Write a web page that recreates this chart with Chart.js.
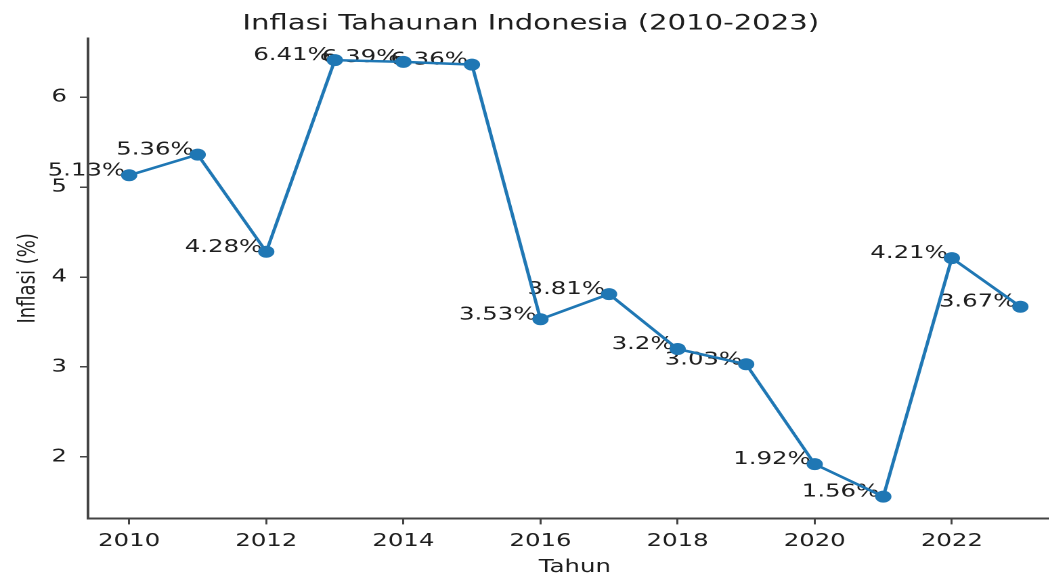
<!DOCTYPE html>
<html>
<head>
<meta charset="utf-8">
<script src="https://cdn.jsdelivr.net/npm/chart.js@4.4.1/dist/chart.umd.min.js"></script>
<style>
  html, body { margin: 0; padding: 0; background: #ffffff; width: 1049px; height: 576px; overflow: hidden; }
  #wrap { position: absolute; left: 0; top: 0; width: 800px; height: 576px; transform: scaleX(1.354); transform-origin: 0 0; }
</style>
</head>
<body>
<div id="wrap"><canvas id="c"></canvas></div>
<script>
// ---- data ----
const years = [2010, 2011, 2012, 2013, 2014, 2015, 2016, 2017, 2018, 2019, 2020, 2021, 2022, 2023];
const inflation = [5.13, 5.36, 4.28, 6.41, 6.39, 6.36, 3.53, 3.81, 3.2, 3.03, 1.92, 1.56, 4.21, 3.67];
const xTicks = [2010, 2012, 2014, 2016, 2018, 2020, 2022];
const yTicks = [2, 3, 4, 5, 6];
const titleText = 'Inflasi Tahaunan Indonesia (2010-2023)';
const xLabel = 'Tahun';
const yLabel = 'Inflasi (%)';

const FONT = 'DejaVu Sans';
const TEXT = '#1e1e1e';
const AXIS = '#444444';
const BLUE = '#1f77b4';

const points = years.map((y, i) => ({ x: y, y: inflation[i] }));

// value labels drawn underneath axes, lines and markers (as in the reference)
const valueLabels = {
  id: 'valueLabels',
  beforeDraw(chart) {
    const ctx = chart.ctx;
    const meta = chart.getDatasetMeta(0);
    ctx.save();
    ctx.font = '18px "' + FONT + '"';
    ctx.fillStyle = TEXT;
    ctx.textAlign = 'right';
    ctx.textBaseline = 'alphabetic';
    meta.data.forEach((el, i) => {
      ctx.fillText(inflation[i] + '%', el.x - 3, el.y);
    });
    ctx.restore();
  }
};

new Chart(document.getElementById('c'), {
  type: 'line',
  data: {
    datasets: [{
      data: points,
      borderColor: BLUE,
      backgroundColor: BLUE,
      borderWidth: 2.5,
      pointRadius: 6,
      pointBorderWidth: 0,
      pointBackgroundColor: BLUE,
      tension: 0,
      fill: false
    }]
  },
  options: {
    responsive: true,
    maintainAspectRatio: false,
    animation: false,
    devicePixelRatio: 2,
    layout: { padding: { left: 0, right: 16, top: 0, bottom: 0 } },
    plugins: {
      legend: { display: false },
      tooltip: { enabled: false },
      title: {
        display: true,
        text: titleText,
        color: TEXT,
        font: { family: FONT, size: 21.5, weight: 'normal' },
        padding: { top: 11, bottom: 1.5 }
      }
    },
    scales: {
      x: {
        type: 'linear',
        min: 2009.4,
        max: 2023.6,
        afterBuildTicks: (s) => { s.ticks = xTicks.map(v => ({ value: v })); },
        afterFit: (s) => { s.height = 57.6; },
        ticks: {
          color: TEXT,
          font: { family: FONT, size: 18 },
          padding: 6,
          maxRotation: 0,
          autoSkip: false,
          callback: (v) => String(v)
        },
        grid: { drawOnChartArea: false, drawTicks: true, tickLength: 6, color: AXIS, lineWidth: 1.5 },
        border: { display: true, color: AXIS, width: 2 },
        title: {
          display: true,
          text: xLabel,
          color: TEXT,
          font: { family: FONT, size: 18 },
          padding: { top: 0, bottom: -2 }
        }
      },
      y: {
        type: 'linear',
        min: 1.3175,
        max: 6.6525,
        afterBuildTicks: (s) => { s.ticks = yTicks.map(v => ({ value: v })); },
        afterFit: (s) => { s.width = 65; },
        ticks: {
          color: TEXT,
          font: { family: FONT, size: 18 },
          padding: 9.5,
          callback: (v) => String(v)
        },
        grid: { drawOnChartArea: false, drawTicks: true, tickLength: 6, color: AXIS, lineWidth: 1.5 },
        border: { display: true, color: AXIS, width: 2 },
        title: {
          display: true,
          text: yLabel,
          color: TEXT,
          font: { family: FONT, size: 18 },
          padding: { top: 10, bottom: 0 }
        }
      }
    }
  },
  plugins: [valueLabels]
});
</script>
</body>
</html>
